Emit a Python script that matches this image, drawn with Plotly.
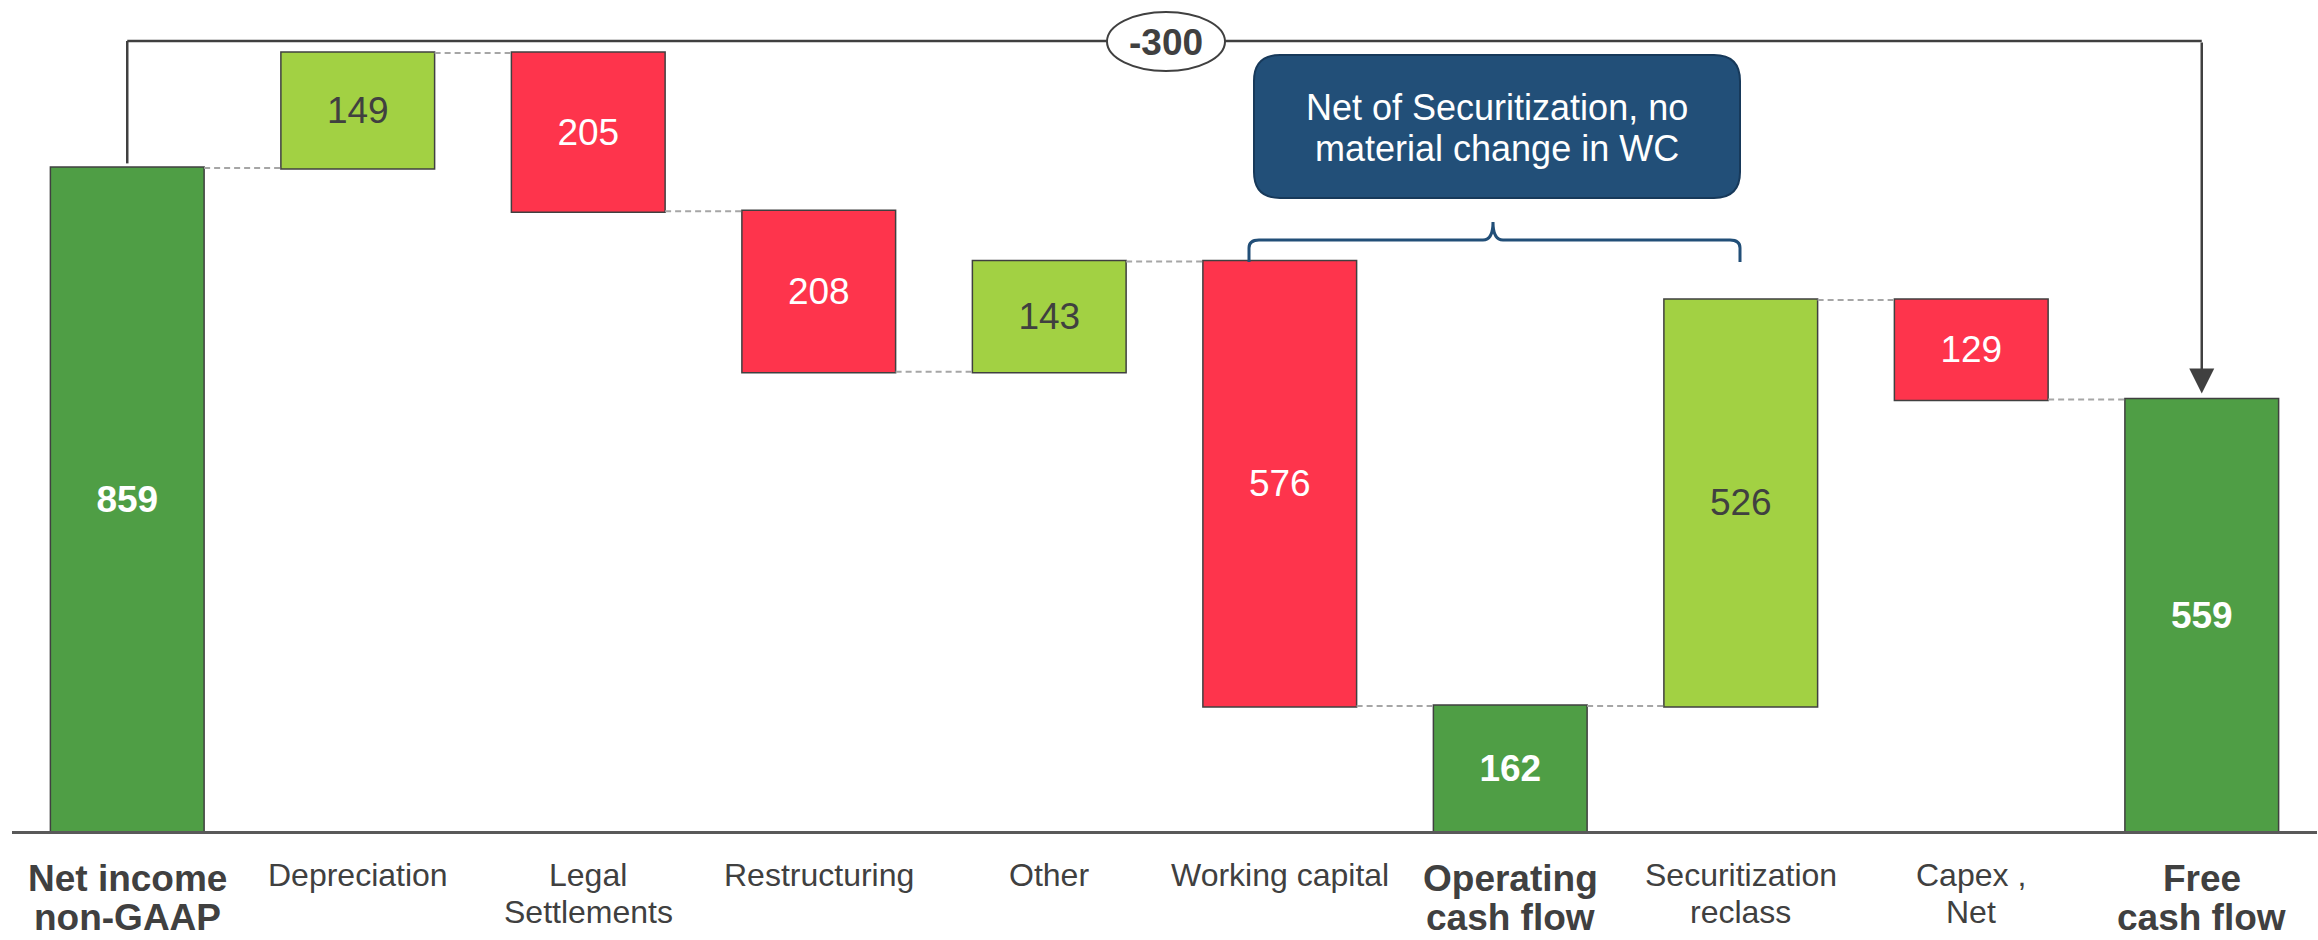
import plotly.graph_objects as go

# ---------------- data ----------------
categories = ["Net income<br>non-GAAP", "Depreciation", "Legal<br>Settlements", "Restructuring",
              "Other", "Working capital", "Operating<br>cash flow", "Securitization<br>reclass",
              "Capex ,<br>Net", "Free<br>cash flow"]
measures = ["absolute", "relative", "relative", "relative", "relative", "relative",
            "total", "relative", "relative", "total"]
values = [859, 149, -205, -208, 143, -576, 0, 526, -129, 0]
bracket_label = "-300"
callout_lines = ["Net of Securitization, no", "material change in WC"]

# ---------------- styles ----------------
W, H = 2318, 940
ML, MR, MT, MB = 12, 1, 0, 109
PLOT_W = W - ML - MR
PLOT_H = H - MT - MB
N = len(categories)
STEP = PLOT_W / N
PX_PER_UNIT = 0.7718
Y_MAX = PLOT_H / PX_PER_UNIT

GREEN = "#4F9E45"
LGREEN = "#A2D143"
RED = "#FE344C"
DARK = "#404040"
NAVY = "#224F78"
FONT = "Liberation Sans, Arial, sans-serif"


def dy(px_y):
    """pixel y (from page top) -> data y"""
    return (MT + PLOT_H - px_y) / PX_PER_UNIT


def py_paper(px_y):
    """pixel y (from page top) -> paper y"""
    return (MT + PLOT_H - px_y) / PLOT_H


def dx(px_x):
    """pixel x -> data x (category index)"""
    return (px_x - ML) / STEP - 0.5


# running totals (for label text)
running = []
tot = 0
for m, v in zip(measures, values):
    if m == "absolute":
        tot = v
    elif m == "relative":
        tot += v
    running.append(tot)

texts, tcolors = [], []
for m, v, r in zip(measures, values, running):
    if m == "total":
        texts.append(f"<b>{r}</b>")
        tcolors.append("white")
    elif m == "absolute":
        texts.append(f"<b>{v}</b>")
        tcolors.append("white")
    else:
        texts.append(f"{abs(v)}")
        tcolors.append(DARK if v > 0 else "white")

bold = [m != "relative" for m in measures]

fig = go.Figure()
fig.add_trace(go.Waterfall(
    x=list(range(N)),
    measure=measures,
    y=values,
    text=texts,
    textposition="inside",
    insidetextanchor="middle",
    constraintext="none",
    textfont=dict(family=FONT, size=37, color=tcolors),
    increasing=dict(marker=dict(color=LGREEN, line=dict(color=DARK, width=1.5))),
    decreasing=dict(marker=dict(color=RED, line=dict(color=DARK, width=1.5))),
    totals=dict(marker=dict(color=GREEN, line=dict(color=DARK, width=1.5))),
    connector=dict(mode="between", line=dict(color="#A6A6A6", width=2, dash="6px,4px")),
    hoverinfo="skip",
))

shapes = []
annotations = []

# category labels (one annotation per line for exact line spacing)
for i, (cat, b) in enumerate(zip(categories, bold)):
    lines = cat.split("<br>")
    for j, ln in enumerate(lines):
        if b:
            size = 37
            if j == 0:
                y, anchor = py_paper(878), "middle"
            else:
                y, anchor = py_paper(939), "bottom"
        else:
            size = 32
            y, anchor = py_paper([875, 912][j]), "middle"
        annotations.append(dict(
            x=i, y=y, xref="x", yref="paper", showarrow=False, borderpad=0,
            text=f"<b>{ln}</b>" if b else ln, xanchor="center", yanchor=anchor,
            font=dict(family=FONT, size=size, color=DARK)))

# bracket from first to last bar with -300
br_y = dy(41)
first_top = running[0]
last_top = running[-1]
shapes.append(dict(type="line", xref="x", yref="y", x0=0, x1=0, y0=first_top + 6, y1=br_y,
                   line=dict(color=DARK, width=2.5)))
shapes.append(dict(type="line", xref="x", yref="y", x0=0, x1=N - 1, y0=br_y, y1=br_y,
                   line=dict(color=DARK, width=2.5)))
annotations.append(dict(x=N - 1, y=last_top + 8, ax=N - 1, ay=br_y, xref="x", yref="y",
                        axref="x", ayref="y", showarrow=True, text="", arrowhead=2,
                        arrowsize=2.0, arrowwidth=2.5, arrowcolor=DARK, standoff=0))
# ellipse
shapes.append(dict(type="circle", xref="x", yref="y", x0=dx(1107), x1=dx(1225),
                   y0=dy(71), y1=dy(12), fillcolor="white", line=dict(color=DARK, width=2),
                   layer="above"))
annotations.append(dict(x=dx(1165.5), y=dy(42), xref="x", yref="y", showarrow=False,
                        text=f"<b>{bracket_label}</b>",
                        font=dict(family=FONT, size=37, color=DARK)))

# callout box with rounded corners
bx0, bx1 = dx(1254), dx(1740)
by0, by1 = dy(198), dy(55)
rpx = 26
rx, ry = rpx / STEP, rpx / PX_PER_UNIT
path = (f"M {bx0 + rx},{by1} L {bx1 - rx},{by1} Q {bx1},{by1} {bx1},{by1 - ry} "
        f"L {bx1},{by0 + ry} Q {bx1},{by0} {bx1 - rx},{by0} "
        f"L {bx0 + rx},{by0} Q {bx0},{by0} {bx0},{by0 + ry} "
        f"L {bx0},{by1 - ry} Q {bx0},{by1} {bx0 + rx},{by1} Z")
shapes.append(dict(type="path", xref="x", yref="y", path=path, fillcolor=NAVY,
                   line=dict(color="#17395A", width=2), layer="above"))
cx = (bx0 + bx1) / 2
for ln, py in zip(callout_lines, [107, 148]):
    annotations.append(dict(x=cx, y=dy(py), xref="x", yref="y", showarrow=False, text=ln,
                            font=dict(family=FONT, size=36, color="white")))

# curly brace over working capital .. securitization
xl, xr, xt = dx(1249), dx(1740), dx(1493)
yh, ye, ytip = dy(240), dy(262), dy(222)
ddx = 10 / STEP
ddy = 8 / PX_PER_UNIT
brace = (f"M {xl},{ye} L {xl},{yh - ddy} Q {xl},{yh} {xl + ddx},{yh} "
         f"L {xt - ddx},{yh} Q {xt},{yh} {xt},{ytip} Q {xt},{yh} {xt + ddx},{yh} "
         f"L {xr - ddx},{yh} Q {xr},{yh} {xr},{yh - ddy} L {xr},{ye}")
shapes.append(dict(type="path", xref="x", yref="y", path=brace,
                   line=dict(color=NAVY, width=3)))

fig.update_layout(
    width=W, height=H, autosize=False,
    margin=dict(l=ML, r=MR, t=MT, b=MB, pad=0),
    paper_bgcolor="white", plot_bgcolor="white",
    showlegend=False, hovermode=False,
    waterfallgap=0.333,
    xaxis=dict(range=[-0.5, N - 0.5], showticklabels=False, showgrid=False, zeroline=False,
               showline=True, linecolor="#595959", linewidth=3, ticks="", fixedrange=True),
    yaxis=dict(range=[0, Y_MAX], visible=False, showgrid=False, zeroline=False, fixedrange=True),
    shapes=shapes, annotations=annotations,
    font=dict(family=FONT, color=DARK),
)

fig.write_html("out.html", config={"displayModeBar": False},
               post_script="document.body.style.margin='0';document.body.style.overflow='hidden';")
